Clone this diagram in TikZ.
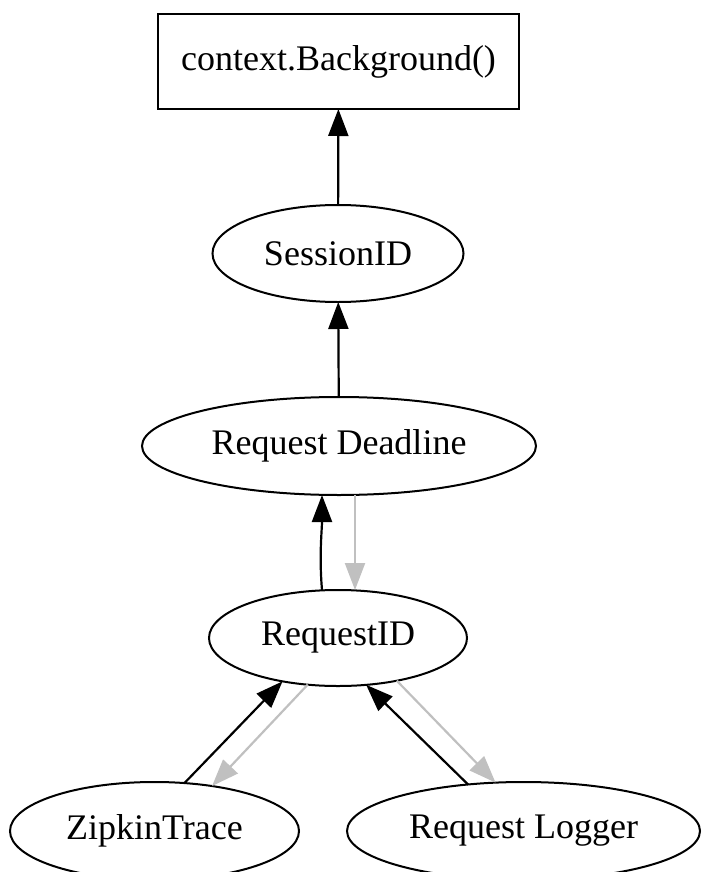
\documentclass[tikz,border=0pt]{standalone}
\usepackage{fontspec}
\setmainfont{Liberation Serif}
\usetikzlibrary{shapes.geometric,arrows.meta}
\definecolor{gvgray}{HTML}{C0C0C0}
\begin{document}
\begin{tikzpicture}[x=1pt,y=-1pt,
  every node/.style={font=\fontsize{36}{40}\selectfont},
  boxnode/.style={draw,rectangle,line width=2pt,inner sep=0pt,outer sep=0pt},
  ell/.style={draw,ellipse,line width=2pt,inner sep=0pt,outer sep=0pt},
  blackedge/.style={line width=2.2pt,-{Triangle[length=27pt,width=20pt]}},
  grayedge/.style={blackedge,draw=gvgray,fill=gvgray}]
\useasboundingbox (0,0) rectangle (701,872);
\node[boxnode,minimum width=361pt,minimum height=95pt] (bg) at (338.5,61.5) {context.Background()};
\node[ell,minimum width=251pt,minimum height=97pt] (sid) at (338,253.5) {SessionID};
\node[ell,minimum width=394pt,minimum height=98pt] (rd) at (339,446) {Request Deadline};
\node[ell,minimum width=258pt,minimum height=96pt] (rid) at (338,638) {RequestID};
\node[ell,minimum width=289pt,minimum height=98pt] (zt) at (154.5,831) {ZipkinTrace};
\node[ell,minimum width=353pt,minimum height=98pt] (rl) at (523.5,831) {Request Logger};

\draw[blackedge] (sid) -- (bg);
\draw[blackedge] (rd) -- (sid);
\draw[blackedge] ([xshift=-16pt]rid.north) .. controls +(-3,-35) and +(0,35) .. ([xshift=-17pt]rd.south);
\draw[grayedge] ([xshift=16pt]rd.south) -- ([xshift=17pt]rid.north);
\draw[blackedge] (zt.58.4) -- (rid.218.3);
\draw[grayedge] (rid.237.3) -- (zt.38);
\draw[blackedge] (rl.140.7) -- (rid.301.8);
\draw[grayedge] (rid.324.7) -- (rl.120.5);
\end{tikzpicture}
\end{document}
